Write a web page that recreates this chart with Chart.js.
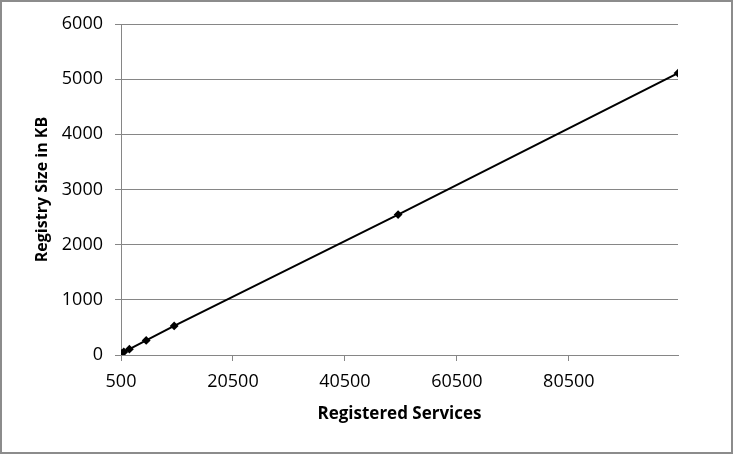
<!DOCTYPE html>
<html lang="en">
<head>
    <meta charset="UTF-8">
    <title>Registry Size</title>
    <script src="https://cdn.jsdelivr.net/npm/chart.js"></script>
    <style>
        body { margin: 0; background: #fff; }
        #wrap { width: 733px; height: 454px; }
    </style>
</head>
<body>
    <div id="wrap"><canvas id="registryChart" width="733" height="454"></canvas></div>

    <script>
        // values
        const services = [500, 1000, 2000, 5000, 10000, 50000, 100000];
        const sizeKB = [30, 55, 105, 265, 527, 2545, 5110];
        const xTicks = [500, 20500, 40500, 60500, 80500];
        const yTicks = [0, 1000, 2000, 3000, 4000, 5000, 6000];

        const font = "'Open Sans', Lato, sans-serif";

        const frame = {
            id: 'frame',
            beforeDraw(chart) {
                const c = chart.ctx;
                c.save();
                c.fillStyle = '#fff';
                c.fillRect(0, 0, chart.width, chart.height);
                c.strokeStyle = '#8c8c8c';
                c.lineWidth = 2;
                c.strokeRect(1, 1, chart.width - 2, chart.height - 2);
                c.restore();
            }
        };

        let ctx = document.getElementById('registryChart').getContext('2d');
        new Chart(ctx, {
            type: 'scatter',
            data: {
                datasets: [{
                    data: services.map((s, i) => ({ x: s, y: sizeKB[i] })),
                    showLine: true,
                    borderColor: '#000',
                    backgroundColor: '#000',
                    borderWidth: 2,
                    pointStyle: 'rectRot',
                    pointRadius: 3,
                    fill: false
                }]
            },
            options: {
                responsive: false,
                animation: false,
                plugins: { legend: { display: false }, tooltip: { enabled: false } },
                layout: { padding: { left: 0, top: 24, right: 55, bottom: 0 } },
                scales: {
                    x: {
                        type: 'linear',
                        min: 500,
                        max: 100000,
                        afterBuildTicks: s => { s.ticks = xTicks.map(v => ({ value: v })); },
                        afterFit: s => { s.height = 99; },
                        border: { color: '#868686', width: 1 },
                        grid: { display: true, drawOnChartArea: false, color: '#868686', tickLength: 6 },
                        ticks: { color: '#000', font: { family: font, size: 18 }, padding: 10, maxRotation: 0,
                                 callback: v => String(v) },
                        title: { display: true, text: 'Registered Services', color: '#000',
                                 font: { family: font, size: 17, weight: 'bold' }, padding: { top: 8, bottom: 30 } }
                    },
                    y: {
                        type: 'linear',
                        min: 0,
                        max: 6000,
                        afterBuildTicks: s => { s.ticks = yTicks.map(v => ({ value: v })); },
                        afterFit: s => { s.width = 121; },
                        border: { color: '#868686', width: 1 },
                        grid: { color: '#868686', tickLength: 6 },
                        ticks: { color: '#000', font: { family: font, size: 18 }, padding: 12,
                                 callback: v => String(v) },
                        title: { display: true, text: 'Registry Size in KB', color: '#000',
                                 font: { family: font, size: 16, weight: 'bold' }, padding: { top: 33, bottom: 0 } }
                    }
                }
            },
            plugins: [frame]
        });
    </script>
</body>
</html>
